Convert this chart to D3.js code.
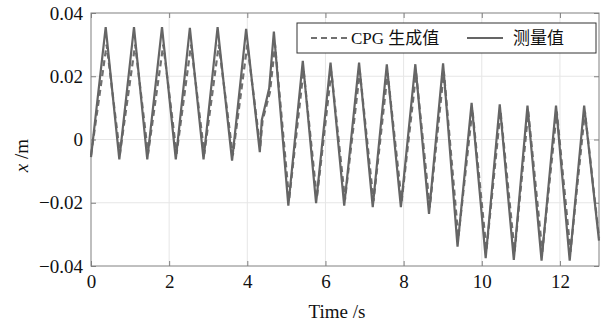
<!DOCTYPE html>
<html>
<head>
<meta charset="utf-8">
<script src="https://cdn.jsdelivr.net/npm/d3@7"></script>
<style>
  body { margin: 0; background: #fff; }
  text { font-family: "Liberation Serif", "Noto Sans CJK SC", serif; fill: #111; }
</style>
</head>
<body>
<div id="chart"></div>
<script>
// measured trace (time s, x m)
var measuredT = [0, 0.376, 0.725, 1.10, 1.44, 1.817, 2.17, 2.53, 2.88, 3.24, 3.61, 3.97, 4.32, 4.37, 4.56, 4.68,
    5.05, 5.42, 5.76, 6.13, 6.48, 6.86, 7.21, 7.57, 7.93, 8.30, 8.65, 9.01, 9.38, 9.74, 10.10, 10.46, 10.82,
    11.17, 11.53, 11.90, 12.25, 12.62, 13.0];
var measuredX = [-0.0056, 0.0355, -0.0063, 0.0355, -0.0063, 0.0355, -0.0063, 0.0353, -0.0063, 0.0355, -0.0067, 0.035,
    -0.004, 0.0061, 0.0162, 0.0341, -0.0209, 0.0249, -0.0201, 0.0243, -0.0209, 0.0243, -0.0214, 0.0238, -0.0214,
    0.0238, -0.0235, 0.0241, -0.0339, 0.0116, -0.0375, 0.0111, -0.0381, 0.0107, -0.0383, 0.0107, -0.0383, 0.0107, -0.032];

// CPG generated trace
var cpgT = [0, 0.40, 0.74, 1.13, 1.46, 1.85, 2.19, 2.56, 2.90, 3.27, 3.63, 4.00, 4.33, 4.39, 4.58, 4.71,
    5.07, 5.44, 5.78, 6.15, 6.50, 6.88, 7.23, 7.59, 7.95, 8.32, 8.67, 9.03, 9.40, 9.76, 10.12, 10.48, 10.84,
    11.19, 11.55, 11.92, 12.27, 12.64, 13.0];
var cpgX = [-0.005, 0.030, -0.0045, 0.030, -0.0045, 0.030, -0.0045, 0.030, -0.0045, 0.030, -0.005, 0.030,
    -0.0025, 0.006, 0.015, 0.030, -0.019, 0.022, -0.0185, 0.0215, -0.019, 0.0215, -0.0195, 0.021, -0.0195,
    0.021, -0.0215, 0.0215, -0.031, 0.0095, -0.035, 0.009, -0.0355, 0.0088, -0.0355, 0.0088, -0.0355, 0.0088, -0.031];

var xTicks = [0, 2, 4, 6, 8, 10, 12];
var yTicks = [-0.04, -0.02, 0, 0.02, 0.04];
var yTickLabels = ['\u22120.04', '\u22120.02', '0', '0.02', '0.04'];
var legendLabels = ['CPG 生成值', '测量值'];

var width = 609, height = 324;
var margin = {left: 91, right: 10, top: 13, bottom: 58};
var w = width - margin.left - margin.right;
var h = height - margin.top - margin.bottom;

var svg = d3.select('#chart').append('svg')
    .attr('width', width)
    .attr('height', height);

var x = d3.scaleLinear().domain([0, 13]).range([0, w]);
var y = d3.scaleLinear().domain([-0.04, 0.04]).range([h, 0]);

var g = svg.append('g').attr('transform', 'translate(' + margin.left + ',' + margin.top + ')');

// grid
g.append('g').selectAll('line').data(xTicks.slice(1)).enter().append('line')
    .attr('x1', function(d) { return x(d); }).attr('x2', function(d) { return x(d); })
    .attr('y1', 0).attr('y2', h)
    .attr('stroke', '#e6e6e6').attr('stroke-width', 1);
g.append('g').selectAll('line').data(yTicks.slice(1, -1)).enter().append('line')
    .attr('y1', function(d) { return y(d); }).attr('y2', function(d) { return y(d); })
    .attr('x1', 0).attr('x2', w)
    .attr('stroke', '#e6e6e6').attr('stroke-width', 1);

// axes with inward ticks on all four sides
function styleAxis(sel) {
    sel.attr('font-family', null).attr('font-size', null);
    sel.select('.domain').remove();
    sel.selectAll('.tick line').attr('stroke', '#808080');
    sel.selectAll('.tick text')
        .style('font-family', '"Liberation Serif", serif')
        .style('font-size', '19px')
        .attr('fill', '#111');
}

var xAxis = g.append('g').attr('transform', 'translate(0,' + h + ')')
    .call(d3.axisBottom(x).tickValues(xTicks).tickSizeInner(-5).tickPadding(9).tickFormat(d3.format('d')));
styleAxis(xAxis);
var xTop = g.append('g')
    .call(d3.axisTop(x).tickValues(xTicks).tickSizeInner(-5).tickFormat(''));
styleAxis(xTop);

var yAxis = g.append('g')
    .call(d3.axisLeft(y).tickValues(yTicks).tickSizeInner(-5).tickPadding(8)
        .tickFormat(function(d, i) { return yTickLabels[i]; }));
styleAxis(yAxis);
var yRight = g.append('g').attr('transform', 'translate(' + w + ',0)')
    .call(d3.axisRight(y).tickValues(yTicks).tickSizeInner(-5).tickFormat(''));
styleAxis(yRight);

g.append('rect')
    .attr('width', w).attr('height', h)
    .attr('fill', 'none').attr('stroke', '#808080').attr('stroke-width', 1);

// series
var line = d3.line()
    .x(function(d) { return x(d[0]); })
    .y(function(d) { return y(d[1]); });

var cpgData = cpgT.map(function(t, i) { return [t, cpgX[i]]; });
var measuredData = measuredT.map(function(t, i) { return [t, measuredX[i]]; });

g.append('path').datum(cpgData)
    .attr('d', line)
    .attr('fill', 'none')
    .attr('stroke', '#707070')
    .attr('stroke-width', 2.2)
    .attr('stroke-dasharray', '6,4');

g.append('path').datum(measuredData)
    .attr('d', line)
    .attr('fill', 'none')
    .attr('stroke', '#656565')
    .attr('stroke-width', 2.2);

// axis titles
svg.append('text')
    .attr('x', margin.left + w / 2 - 8)
    .attr('y', 318)
    .attr('text-anchor', 'middle')
    .style('font-size', '19px')
    .text('Time /s');

var yl = svg.append('text')
    .attr('transform', 'translate(28,' + (margin.top + h / 2 + 16) + ') rotate(-90)')
    .attr('text-anchor', 'middle')
    .style('font-size', '19px');
yl.append('tspan').style('font-style', 'italic').text('x');
yl.append('tspan').text(' /m');

// legend
var lg = svg.append('g');
lg.append('rect')
    .attr('x', 297).attr('y', 23).attr('width', 299).attr('height', 30)
    .attr('fill', '#fff').attr('stroke', '#333').attr('stroke-width', 1);
lg.append('line')
    .attr('x1', 311).attr('x2', 347).attr('y1', 38).attr('y2', 38)
    .attr('stroke', '#707070').attr('stroke-width', 2).attr('stroke-dasharray', '6,4');
lg.append('text').attr('x', 351).attr('y', 44).style('font-size', '17px').text(legendLabels[0]);
lg.append('line')
    .attr('x1', 467).attr('x2', 503).attr('y1', 38).attr('y2', 38)
    .attr('stroke', '#656565').attr('stroke-width', 2);
lg.append('text').attr('x', 513).attr('y', 44).style('font-size', '17px').text(legendLabels[1]);
</script>
</body>
</html>
